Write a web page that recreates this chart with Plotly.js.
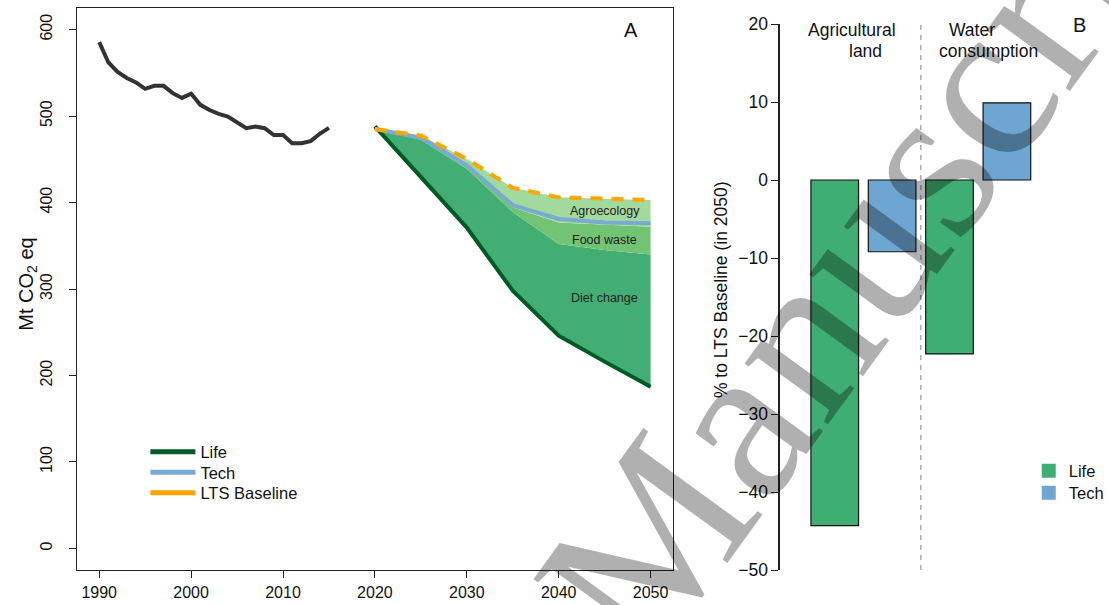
<!DOCTYPE html>
<html><head><meta charset="utf-8">
<script src="https://cdn.plot.ly/plotly-3.0.1.min.js"></script>
<style>html,body{margin:0;padding:0;background:#fff}#chart{width:1109px;height:605px}</style>
</head><body><div id="chart"></div>
<script>
// ---------- Panel A data ----------
const histYears = [1990,1991,1992,1993,1994,1995,1996,1997,1998,1999,2000,2001,2002,2003,2004,2005,2006,2007,2008,2009,2010,2011,2012,2013,2014,2015];
const histEmissions = [585.6,562,551,544,539,531.5,535,535,526.5,521,526,513,507,502.5,499.5,493,486,488,486,478,478,468.5,468.5,471,479.5,486.4];
const projYears = [2020,2025,2030,2035,2040,2045,2050];
const lifeScenario = [488,430,371,298,246,216,187];
const techScenario = [485,475,443,397,381,377,376];
const ltsBaseline = [485,477.5,450.5,417,406,404,403];
const dietChangeTop = [485,472.5,439,389,352,345,340];
const foodWasteTop = [485,474,441,394.5,377,374.5,372];
const wedgeLabels = ["Agroecology","Food waste","Diet change"];
const wedgeLabelY = [390.7,357,290];
const wedgeLabelX = 2045;
const xTicksA = [1990,2000,2010,2020,2030,2040,2050];
const yTicksA = [0,100,200,300,400,500,600];
const legendNamesA = ["Life","Tech","LTS Baseline"];

// ---------- Panel B data ----------
const impactCategories = ["Agricultural land","Water consumption"];
const lifeChange = [-44.3,-22.3];
const techChange = [-9.2,9.9];
const yTicksB = [-50,-40,-30,-20,-10,0,10,20];
const legendNamesB = ["Life","Tech"];

const W = 1109, H = 605;
const px = v => v / W;
const py = v => 1 - v / H;
const FONT = "Liberation Sans, Arial, Helvetica, sans-serif";

const cDiet = "#42ae74", cFood = "#72c374", cAgro = "#a2d99c";
const cLife = "#005a26", cTech = "#78aad3", cBase = "#ffa500";
const cBarLife = "#3fae72", cBarTech = "#6ea6d2";
const legendColorsA = [cLife, cTech, cBase];
const legendColorsB = [cBarLife, cBarTech];
const legendIdsA = ["legend", "legend3", "legend4"];
const legendIdsB = ["legend2", "legend5"];

const traces = [
  {x: projYears, y: lifeScenario, mode: "lines", line: {width: 0}, showlegend: false, hoverinfo: "skip", xaxis: "x", yaxis: "y"},
  {x: projYears, y: dietChangeTop, mode: "lines", line: {width: 0}, fill: "tonexty", fillcolor: cDiet, showlegend: false, xaxis: "x", yaxis: "y"},
  {x: projYears, y: foodWasteTop, mode: "lines", line: {width: 0}, fill: "tonexty", fillcolor: cFood, showlegend: false, xaxis: "x", yaxis: "y"},
  {x: projYears, y: ltsBaseline, mode: "lines", line: {width: 0}, fill: "tonexty", fillcolor: cAgro, showlegend: false, xaxis: "x", yaxis: "y"},
  {x: projYears, y: lifeScenario, mode: "lines", line: {color: cLife, width: 4}, showlegend: false, xaxis: "x", yaxis: "y"},
  {x: projYears, y: techScenario, mode: "lines", line: {color: cTech, width: 4}, showlegend: false, xaxis: "x", yaxis: "y"},
  {x: projYears, y: ltsBaseline, mode: "lines", line: {color: cBase, width: 4, dash: "12px,9px"}, showlegend: false, xaxis: "x", yaxis: "y"},
  {x: histYears, y: histEmissions, mode: "lines", line: {color: "#333333", width: 4}, showlegend: false, xaxis: "x", yaxis: "y"},
  // Panel B bars
  {type: "bar", x: impactCategories, y: lifeChange, name: "Life", marker: {color: cBarLife, line: {color: "#111", width: 1.2}}, showlegend: false, xaxis: "x2", yaxis: "y2"},
  {type: "bar", x: impactCategories, y: techChange, name: "Tech", marker: {color: cBarTech, line: {color: "#111", width: 1.2}}, showlegend: false, xaxis: "x2", yaxis: "y2"}
];
// legend entries, panel A (lines)
legendNamesA.forEach((n, i) => traces.push({
  x: [null], y: [null], mode: "lines", name: n, line: {color: legendColorsA[i], width: 5},
  legend: legendIdsA[i], xaxis: "x", yaxis: "y"
}));
// legend entries, panel B (squares)
legendNamesB.forEach((n, i) => traces.push({
  x: [null], y: [null], mode: "markers", name: n, marker: {symbol: "square", size: 14, color: legendColorsB[i]},
  legend: legendIdsB[i], xaxis: "x2", yaxis: "y2"
}));

const ann = (x, y, text, size, extra) => Object.assign({
  x: px(x), y: py(y), xref: "paper", yref: "paper", text: text, showarrow: false,
  xanchor: "center", yanchor: "middle", font: {family: FONT, size: size, color: "#111"}
}, extra || {});

const annotations = [];
wedgeLabels.forEach((t, i) => annotations.push({
  x: wedgeLabelX, y: wedgeLabelY[i], xref: "x", yref: "y", text: t, showarrow: false,
  xanchor: "center", yanchor: "middle", font: {family: FONT, size: 12.5, color: "#222"}
}));
annotations.push(
  ann(638, 30, "A", 20),
  ann(1091, 25, "B", 20),
  ann(27, 284, "Mt CO<sub>2</sub> eq", 20, {textangle: -90}),
  ann(729, 290, "% to LTS Baseline (in 2050)", 17.5, {textangle: -90}),
  ann(861, 30, "Agricultural", 17.5),
  ann(875, 51, "land", 17.5),
  ann(983, 30, "Water", 17.5),
  ann(999, 51, "consumption", 17.5),
  // watermark
  ann(898, 212, "Manuscript", 225, {textangle: -54,
    font: {family: "Liberation Serif, Times New Roman, serif", size: 225, color: "rgba(0,0,0,0.31)"}})
);

const legendBase = (x, y, size, iw) => ({
  x: px(x), y: py(y), xanchor: "left", yanchor: "middle", bgcolor: "rgba(0,0,0,0)",
  font: {family: FONT, size: size, color: "#111"}, itemwidth: iw, tracegroupgap: 0
});

const layout = {
  width: W, height: H,
  margin: {l: 0, r: 0, t: 0, b: 0},
  paper_bgcolor: "#fff", plot_bgcolor: "rgba(0,0,0,0)",
  font: {family: FONT, color: "#111"},
  barmode: "group", bargap: 0, bargroupgap: 0.17,
  xaxis: {
    domain: [px(78), px(680)], range: [1987.6, 2052.4], tickvals: xTicksA, ticktext: xTicksA.map(String),
    showline: true, mirror: true, linecolor: "#222", linewidth: 1.3, ticks: "outside", ticklen: 7, tickcolor: "#222",
    showgrid: false, zeroline: false, tickfont: {family: FONT, size: 16, color: "#111"}, automargin: false, anchor: "y"
  },
  yaxis: {
    domain: [py(570), py(8)], range: [-25, 625], tickvals: yTicksA, ticktext: yTicksA.map(String), tickangle: -90,
    showline: true, mirror: true, linecolor: "#222", linewidth: 1.3, ticks: "outside", ticklen: 7, tickcolor: "#222",
    ticklabelstandoff: 10,
    showgrid: false, zeroline: false, tickfont: {family: FONT, size: 16, color: "#111"}, automargin: false, anchor: "x"
  },
  xaxis2: {
    domain: [px(787), 1], type: "category", range: [-0.74, 2.035], visible: false, anchor: "y2", fixedrange: true
  },
  yaxis2: {
    domain: [py(570), py(24)], range: [-50, 20], tickvals: yTicksB, ticktext: yTicksB.map(v => v < 0 ? "\u2212" + Math.abs(v) : String(v)),
    showline: true, linecolor: "#222", linewidth: 1.3, ticks: "outside", ticklen: 7, tickcolor: "#222",
    showgrid: false, zeroline: false, tickfont: {family: FONT, size: 17.5, color: "#111"}, automargin: false, anchor: "free", position: px(787)
  },
  shapes: [
    {type: "line", xref: "x2", yref: "y2", x0: 0.5, x1: 0.5, y0: -50, y1: 20, line: {color: "#aaaaaa", width: 1.5, dash: "5px,5px"}, layer: "below"}
  ],
  annotations: annotations,
  legend: legendBase(147, 452, 16.5, 45),
  legend3: legendBase(147, 472.5, 16.5, 45),
  legend4: legendBase(147, 493, 16.5, 45),
  legend2: legendBase(1040, 471, 16.5, 30),
  legend5: legendBase(1040, 493, 16.5, 30),
  showlegend: true
};

Plotly.newPlot("chart", traces, layout, {staticPlot: true, displayModeBar: false});
</script></body></html>
